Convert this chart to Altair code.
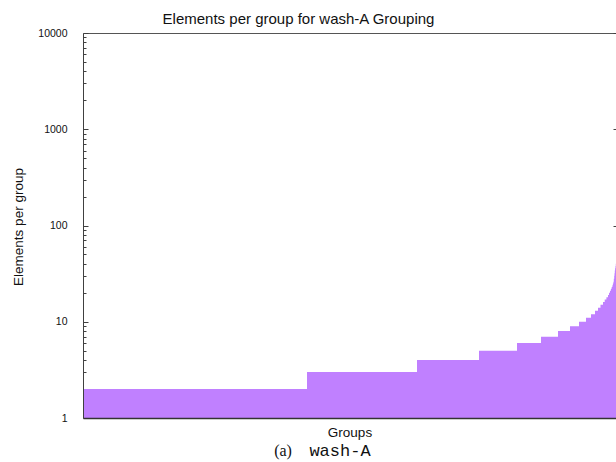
import altair as alt
import pandas as pd

# Group sizes (elements per group), sorted ascending, and how many groups have each size
sizes = [2, 3, 4, 5, 6, 7, 8, 9, 10, 11, 12, 13,
         14, 15, 16, 17, 18, 19, 20, 21, 22, 23, 24, 25, 26, 28,
         30, 32, 34, 36, 38, 40]
group_counts = [2240, 1100, 620, 380, 240, 170, 120, 90, 70, 50, 40, 30,
                25, 25, 17, 17, 16, 10, 10, 9, 8, 7, 5, 5, 4, 4,
                3, 3, 3, 4, 3, 2]

major_ticks = [1, 10, 100, 1000, 10000]
minor_ticks = [m * d for d in [1, 10, 100, 1000] for m in range(2, 10)]

# Rank-ordered step profile: each size starts at the cumulative group position
starts, vals, pos = [], [], 0
for s, c in zip(sizes, group_counts):
    starts.append(pos)
    vals.append(s)
    pos += c
starts.append(pos)
vals.append(sizes[-1])
total_groups = pos
df = pd.DataFrame({"group": starts, "elements": vals})

W, H = 533, 385
FONT = "Liberation Sans"
AX = "#404040"

xscale = alt.Scale(domain=[0, total_groups], nice=False, zero=False)
yscale = alt.Scale(type="log", domain=[1, 10000], nice=False)

base = alt.Chart(df)

area = base.mark_area(interpolate="step-after", color="#c080ff").encode(
    x=alt.X("group:Q", scale=xscale,
            axis=alt.Axis(title="Groups", labels=False, ticks=False, grid=False,
                          domainColor="#333", domainWidth=1.3, zindex=1,
                          titleFont=FONT, titleFontSize=13.5, titleFontWeight="normal",
                          titleColor="#111", titleBaseline="middle", titleY=14)),
    y=alt.Y("elements:Q", scale=yscale,
            axis=alt.Axis(title="Elements per group", values=major_ticks, format="d",
                          ticks=False, grid=False, labelPadding=16,
                          labelFont=FONT, labelFontSize=10.5, labelColor="#111",
                          domainColor=AX, domainWidth=1, zindex=1,
                          titleFont=FONT, titleFontSize=13.5, titleFontWeight="normal",
                          titleColor="#111", titleAngle=-90, titleBaseline="middle",
                          titleX=-65, titleY=H / 2 + 1)),
    y2=alt.datum(1),
)

def tick_layer(values, size, offset, x_orient="top", x_domain=False):
    # Invisible points that only carry an extra axis (inward ticks / borders)
    return base.mark_point(opacity=0).encode(
        x=alt.X("group:Q", scale=xscale,
                axis=alt.Axis(orient=x_orient, title=None, labels=False, ticks=False,
                              grid=False, domain=x_domain, domainColor="#555",
                              domainWidth=1, zindex=0)),
        y=alt.Y("elements:Q", scale=yscale,
                axis=alt.Axis(orient="right", values=values, offset=offset,
                              tickSize=size, tickColor=AX, tickWidth=1,
                              labels=False, domain=False, grid=False, title=None,
                              zindex=0)),
    )

major_in = tick_layer(major_ticks, 5, -W, x_domain=True)
minor_in = tick_layer(minor_ticks, 3, -W)
mirror = tick_layer(major_ticks, 3, -3)

blank = alt.Data(values=[{}])
cap_a = alt.Chart(blank).mark_text(
    text="(a)", font="Liberation Serif", fontSize=16, color="#111", baseline="middle"
).encode(x=alt.value(200), y=alt.value(418))
cap_name = alt.Chart(blank).mark_text(
    text="wash-A", font="Liberation Mono", fontSize=17, color="#111", baseline="middle"
).encode(x=alt.value(257), y=alt.value(418))

chart = alt.layer(minor_in, major_in, mirror, area, cap_a, cap_name).resolve_axis(
    x="independent", y="independent"
).properties(
    width=W,
    height=H,
    title=alt.TitleParams("Elements per group for wash-A Grouping", font=FONT,
                          fontSize=15, fontWeight="normal", color="#111",
                          anchor="middle", dx=-51, offset=1),
    autosize=alt.AutoSizeParams(type="none"),
    padding={"left": 83, "top": 33, "right": 0, "bottom": 44},
).configure_view(stroke=None).configure(background="white")

chart.save("out.html", embed_options={"renderer": "svg", "actions": False})
